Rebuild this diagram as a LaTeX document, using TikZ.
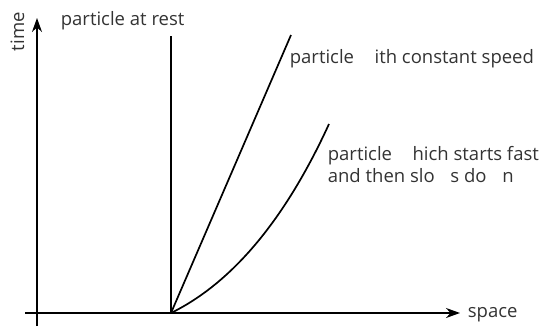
\documentclass[tikz,border=0pt]{standalone}
\usepackage{fontspec}
\setmainfont{Open Sans}
\usetikzlibrary{arrows.meta}
\definecolor{labelgray}{HTML}{333333}
\newcommand{\wgap}{\hspace{0.85em}}

\begin{document}
\begin{tikzpicture}[x=1pt, y=-1pt, line width=1.7pt,
  axis/.style={-{Stealth[length=14pt,width=10pt]}},
  lbl/.style={text=labelgray, font=\fontsize{18.5}{22}\selectfont, inner sep=0pt, anchor=base west}]
\useasboundingbox (0,0) rectangle (550,327);
% axes
\coordinate (o) at (171,313);
\coordinate (xstart) at (25,313);
\coordinate (xend) at (460,313);
\coordinate (ystart) at (37,326);
\coordinate (yend) at (37,18);
\draw[axis] (xstart) -- (xend);
\draw[axis] (ystart) -- (yend);
\node[lbl] (space) at (467,317) {space};
\node[lbl, rotate=90] (time) at (24,52) {time};
% world lines
\coordinate (resttop) at (171,36);
\coordinate (speedtop) at (291,35);
\coordinate (slowtop) at (329,124);
\draw (o) -- (resttop);
\draw (o) -- (speedtop);
\draw (o) .. controls (232,283) and (285,220) .. (slowtop);
\node[lbl] (rest) at (60,25) {particle at rest};
\node[lbl] (speed) at (289,63) {particle \wgap ith constant speed};
\node[lbl, align=left, anchor=north west] (slow) at (327,145) {particle \wgap hich starts fast\\and then slo\wgap s do\wgap n};
\end{tikzpicture}
\end{document}
